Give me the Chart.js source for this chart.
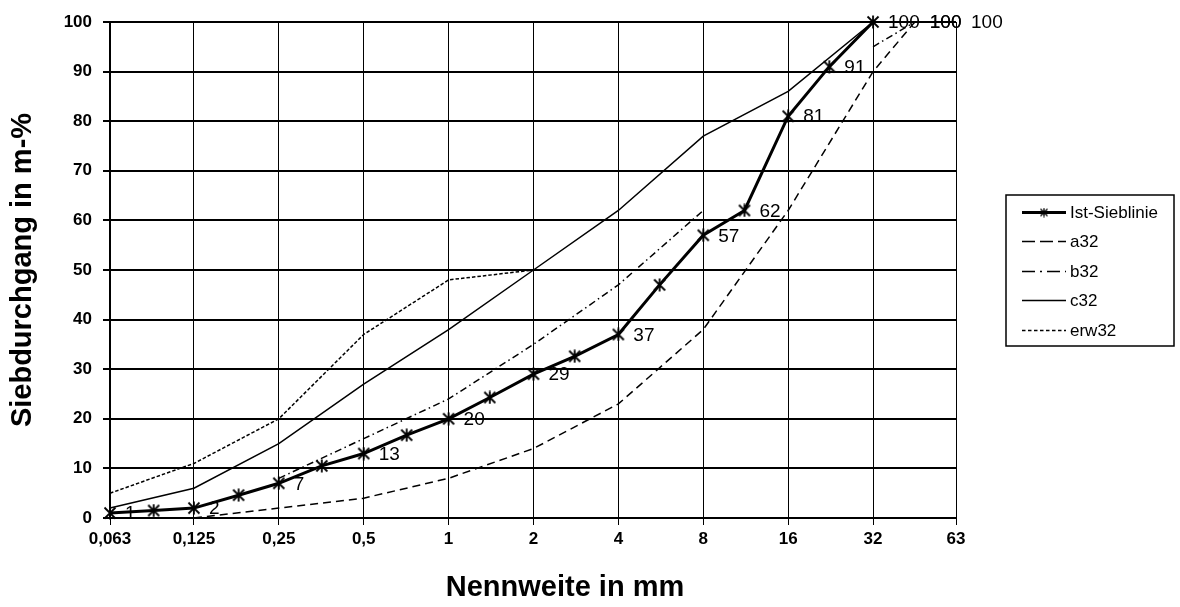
<!DOCTYPE html>
<html>
<head>
<meta charset="utf-8">
<script src="https://cdn.jsdelivr.net/npm/chart.js@4"></script>
<style>
  html, body { margin: 0; padding: 0; background: #fff; }
  canvas { display: block; }
</style>
</head>
<body>
<canvas id="chart" width="1180" height="607"></canvas>
<script>
// Sieve sizes on the x axis (mm) and their printed labels
const sieveSizes  = [0.063, 0.125, 0.25, 0.5, 1, 2, 4, 8, 16, 32, 63];
const sieveLabels = ['0,063', '0,125', '0,25', '0,5', '1', '2', '4', '8', '16', '32', '63'];
const yTicks = [0, 10, 20, 30, 40, 50, 60, 70, 80, 90, 100];

// Measured grading curve
const istSizes  = [0.063, 0.09, 0.125, 0.18, 0.25, 0.355, 0.5, 0.71, 1, 1.4, 2, 2.8, 4, 5.6, 8, 11.2, 16, 22.4, 32];
const istValues = [1, 1.5, 2, 4.6, 7, 10.5, 13, 16.7, 20, 24.3, 29, 32.6, 37, 47, 57, 62, 81, 91, 100];
const istLabelAt = [0.063, 0.125, 0.25, 0.5, 1, 2, 4, 8, 11.2, 16, 22.4, 32];

// Reference grading curves
const a32Sizes  = [0.125, 0.25, 0.5, 1, 2, 4, 8, 16, 32, 45];
const a32Values = [0, 2, 4, 8, 14, 23, 38, 62, 90, 100];
const a32LabelAt = [45];

const b32Sizes  = [0.25, 0.5, 1, 2, 4, 8, 16, 32, 45];
const b32Values = [8, 16, 24, 35, 47, 62, null, 95, 100];
const b32LabelAt = [45];

const c32Sizes  = [0.063, 0.125, 0.25, 0.5, 1, 2, 4, 8, 16, 32];
const c32Values = [2, 6, 15, 27, 38, 50, 62, 77, 86, 100];

const erw32Sizes  = [0.063, 0.125, 0.25, 0.5, 1, 2, 4, 8, 16, 32, 63];
const erw32Values = [5, 11, 20, 37, 48, 50, null, null, null, null, 100];
const erw32LabelAt = [63];

const FONT = '"Liberation Sans", Arial, Helvetica, sans-serif';

const toPoints = (sizes, values) => sizes.map((s, i) => ({ x: s, y: values[i] }));

// Asterisk marker (X plus vertical stroke)
function makeAsterisk(size, lw) {
  const c = document.createElement('canvas');
  c.width = size; c.height = size;
  const g = c.getContext('2d');
  g.strokeStyle = '#000';
  g.lineWidth = lw;
  const m = size / 2, r = size / 2 - 1.5;
  g.beginPath();
  g.moveTo(m - r, m - r); g.lineTo(m + r, m + r);
  g.moveTo(m + r, m - r); g.lineTo(m - r, m + r);
  g.moveTo(m, 0.5); g.lineTo(m, size - 0.5);
  g.stroke();
  return c;
}
const starMarker = makeAsterisk(14, 1.8);
const starLegend = makeAsterisk(10, 1.3);

const datasets = [
  { label: 'Ist-Sieblinie', data: toPoints(istSizes, istValues), labelAt: istLabelAt,
    borderColor: '#000', backgroundColor: '#000', borderWidth: 3,
    pointStyle: starMarker, pointRadius: 7, legendDash: [], legendWidth: 3, legendMarker: starLegend },
  { label: 'a32', data: toPoints(a32Sizes, a32Values), labelAt: a32LabelAt,
    borderColor: '#000', borderWidth: 1.5, borderDash: [8, 5], pointRadius: 0,
    legendDash: [13, 5], legendWidth: 1.3 },
  { label: 'b32', data: toPoints(b32Sizes, b32Values), labelAt: b32LabelAt,
    borderColor: '#000', borderWidth: 1.5, borderDash: [7, 3.5, 1.5, 3.5], pointRadius: 0,
    legendDash: [13, 5, 2, 5], legendWidth: 1.3 },
  { label: 'c32', data: toPoints(c32Sizes, c32Values),
    borderColor: '#000', borderWidth: 1.5, pointRadius: 0,
    legendDash: [], legendWidth: 1.3 },
  { label: 'erw32', data: toPoints(erw32Sizes, erw32Values), labelAt: erw32LabelAt,
    borderColor: '#000', borderWidth: 1.5, borderDash: [3.5, 2], pointRadius: 0,
    legendDash: [3.5, 2.5], legendWidth: 1.3 }
];

// Value labels printed to the right of selected points
const valueLabels = {
  id: 'valueLabels',
  afterDatasetsDraw(chart) {
    const ctx = chart.ctx;
    ctx.save();
    ctx.font = '19px ' + FONT;
    ctx.fillStyle = '#000';
    ctx.textAlign = 'left';
    ctx.textBaseline = 'middle';
    chart.data.datasets.forEach((ds, di) => {
      const meta = chart.getDatasetMeta(di);
      (ds.labelAt || []).forEach(size => {
        const i = ds.data.findIndex(p => p.x === size);
        if (i < 0) return;
        const el = meta.data[i];
        ctx.fillText(String(Math.round(ds.data[i].y)), el.x + 15, el.y + 1);
      });
    });
    ctx.restore();
  }
};

// Boxed legend on the right and the x axis title
const sideLegend = {
  id: 'sideLegend',
  afterDraw(chart) {
    const ctx = chart.ctx;
    ctx.save();
    ctx.strokeStyle = '#000';
    ctx.lineWidth = 1.5;
    ctx.strokeRect(1006, 195, 168, 151);
    ctx.font = '17px ' + FONT;
    ctx.fillStyle = '#000';
    ctx.textAlign = 'left';
    ctx.textBaseline = 'middle';
    chart.data.datasets.forEach((ds, i) => {
      const y = Math.round(211.5 + i * 29.6) + 0.5;
      ctx.save();
      ctx.setLineDash(ds.legendDash);
      ctx.lineWidth = ds.legendWidth;
      ctx.beginPath();
      ctx.moveTo(1022, y);
      ctx.lineTo(1066, y);
      ctx.stroke();
      ctx.restore();
      if (ds.legendMarker) {
        const m = ds.legendMarker;
        ctx.drawImage(m, 1044 - m.width / 2, y - m.height / 2);
      }
      ctx.fillText(ds.label, 1070, y + 1);
    });
    ctx.font = 'bold 29px ' + FONT;
    ctx.textAlign = 'center';
    ctx.fillText('Nennweite in mm', 565, 588);
    ctx.restore();
  }
};

new Chart(document.getElementById('chart'), {
  type: 'line',
  data: { datasets },
  plugins: [valueLabels, sideLegend],
  options: {
    responsive: false,
    animation: false,
    devicePixelRatio: 1,
    layout: { padding: { top: 22, right: 224, left: 0, bottom: 0 } },
    elements: { line: { tension: 0 } },
    datasets: { line: { clip: false, spanGaps: false } },
    plugins: { legend: { display: false }, tooltip: { enabled: false } },
    scales: {
      x: {
        type: 'logarithmic',
        min: sieveSizes[0],
        max: sieveSizes[sieveSizes.length - 1],
        afterBuildTicks: s => { s.ticks = sieveSizes.map(v => ({ value: v })); },
        afterFit: s => { s.height = 89; },
        ticks: {
          autoSkip: false, maxRotation: 0, color: '#000', padding: 4,
          font: { family: FONT, size: 17, weight: 'bold' },
          callback: (v, i) => sieveLabels[i]
        },
        grid: { color: '#000', lineWidth: 1, tickLength: 7, drawTicks: true },
        border: { color: '#000', width: 2 }
      },
      y: {
        min: 0, max: 100,
        afterBuildTicks: s => { s.ticks = yTicks.map(v => ({ value: v })); },
        afterFit: s => { s.width = 110; },
        ticks: {
          color: '#000', padding: 11,
          font: { family: FONT, size: 17, weight: 'bold' }
        },
        grid: { color: '#000', lineWidth: 2, tickLength: 7, drawTicks: true },
        border: { color: '#000', width: 2 },
        title: {
          display: true, text: 'Siebdurchgang in m-%', color: '#000',
          font: { family: FONT, size: 29, weight: 'bold' },
          padding: { top: 6, bottom: 0 }
        }
      }
    }
  }
});
</script>
</body>
</html>
